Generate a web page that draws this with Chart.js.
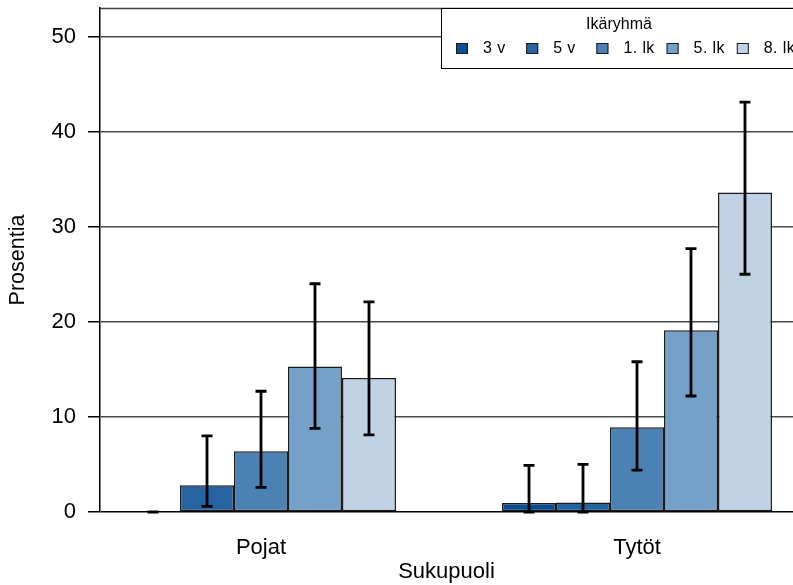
<!DOCTYPE html>
<html><head><meta charset="utf-8">
<script src="https://cdn.jsdelivr.net/npm/chart.js@4"></script>
<style>html,body{margin:0;padding:0;background:#fff}#wrap{width:793px;height:585px;position:relative}</style>
</head><body><div id="wrap"><canvas id="c"></canvas></div>
<script>
// ---- data ----
const categories = ['Pojat', 'Tytöt'];
const groupLabels = ['3 v', '5 v', '1. lk', '5. lk', '8. lk'];
const values3v  = [0.0, 0.95];
const values5v  = [2.8, 1.0];
const values1lk = [6.4, 8.9];
const values5lk = [15.3, 19.1];
const values8lk = [14.1, 33.6];
const low3v  = [0.0, 0.0];   const high3v  = [0.0, 4.9];
const low5v  = [0.6, 0.0];   const high5v  = [8.0, 5.0];
const low1lk = [2.6, 4.4];   const high1lk = [12.7, 15.8];
const low5lk = [8.8, 12.2];  const high5lk = [24.0, 27.7];
const low8lk = [8.1, 25.0];  const high8lk = [22.1, 43.1];
const yTicks = [0, 10, 20, 30, 40, 50];
const legendTitle = 'Ikäryhmä';
const xTitle = 'Sukupuoli';
const yTitle = 'Prosentia';

const seriesValues = [values3v, values5v, values1lk, values5lk, values8lk];
const seriesLow = [low3v, low5v, low1lk, low5lk, low8lk];
const seriesHigh = [high3v, high5v, high1lk, high5lk, high8lk];
const colors = ['#0b4d92', '#2563a1', '#4b81b3', '#75a0c7', '#c0d2e4'];
const FONT = '"Liberation Sans", Arial, sans-serif';

const datasets = seriesValues.map((vals, k) => ({
  label: groupLabels[k],
  data: vals.map((v, i) => ({x: i, y: v})),
  backgroundColor: colors[k],
  borderColor: '#1a1a1a',
  borderWidth: 1.5,
  borderSkipped: false,
  categoryPercentage: 0.718,
  barPercentage: 1.0
}));

const decor = {
  id: 'decor',
  beforeDatasetsDraw(chart) {
    const {ctx, chartArea: a} = chart;
    ctx.save();
    ctx.strokeStyle = '#444';
    ctx.lineWidth = 1.5;
    ctx.beginPath();
    ctx.moveTo(a.left, a.top + 0.5);
    ctx.lineTo(a.right + 2, a.top + 0.5);
    ctx.stroke();
    ctx.restore();
  },
  afterDatasetsDraw(chart) {
    const {ctx} = chart;
    const ys = chart.scales.y;
    ctx.save();
    ctx.strokeStyle = '#000';
    ctx.lineWidth = 2.8;
    chart.data.datasets.forEach((ds, k) => {
      const meta = chart.getDatasetMeta(k);
      meta.data.forEach((bar, i) => {
        const x = bar.x;
        const yl = ys.getPixelForValue(seriesLow[k][i]);
        const yh = ys.getPixelForValue(seriesHigh[k][i]);
        ctx.beginPath();
        ctx.moveTo(x, yl); ctx.lineTo(x, yh);
        ctx.moveTo(x - 5.5, yl); ctx.lineTo(x + 5.5, yl);
        ctx.moveTo(x - 5.5, yh); ctx.lineTo(x + 5.5, yh);
        ctx.stroke();
      });
    });
    ctx.restore();
  },
  afterDraw(chart) {
    const {ctx} = chart;
    ctx.save();
    // legend box
    const bx = 441.5, by = 8.5, bw = 400, bh = 60;
    ctx.fillStyle = '#fff';
    ctx.fillRect(bx, by, bw, bh);
    ctx.strokeStyle = '#000';
    ctx.lineWidth = 1;
    ctx.strokeRect(bx, by, bw, bh);
    ctx.fillStyle = '#000';
    ctx.font = '16px ' + FONT;
    ctx.textAlign = 'center';
    ctx.textBaseline = 'middle';
    ctx.fillText(legendTitle, 619, 25);
    ctx.textAlign = 'left';
    ctx.letterSpacing = '0.4px';
    chart.data.datasets.forEach((ds, k) => {
      const sx = 456 + k * 70.2;
      ctx.fillStyle = ds.backgroundColor;
      ctx.fillRect(sx, 43, 12, 11);
      ctx.strokeStyle = '#1a1a1a';
      ctx.lineWidth = 1;
      ctx.strokeRect(sx + 0.5, 43.5, 11, 10);
      ctx.fillStyle = '#000';
      ctx.fillText(ds.label, sx + 27, 48.5);
    });
    ctx.restore();
  }
};

new Chart(document.getElementById('c'), {
  type: 'bar',
  data: {datasets},
  options: {
    responsive: true,
    maintainAspectRatio: false,
    animation: false,
    layout: {padding: {top: 8, right: 0, left: 0, bottom: 0}},
    plugins: {legend: {display: false}, tooltip: {enabled: false}},
    scales: {
      x: {
        type: 'linear',
        min: -0.4282,
        max: 1.4149,
        offset: false,
        grid: {display: false, drawTicks: false},
        border: {display: false},
        afterBuildTicks(s) { s.ticks = categories.map((c, i) => ({value: i})); },
        afterFit(s) { s.height = 73; s.paddingLeft = 0; s.paddingRight = 0; },
        ticks: {
          callback: (v) => categories[v] !== undefined ? categories[v] : '',
          font: {family: FONT, size: 22},
          color: '#000',
          padding: 23,
          maxRotation: 0,
          autoSkip: false
        },
        title: {display: true, text: xTitle, font: {family: FONT, size: 22}, color: '#000', padding: {top: 0, bottom: 0}}
      },
      y: {
        min: 0,
        max: 53,
        afterBuildTicks(s) { s.ticks = yTicks.map(v => ({value: v})); },
        afterFit(s) { s.width = 100; s.paddingTop = 0; s.paddingBottom = 0; },
        grid: {
          color: (c) => (c.tick && c.tick.value === 0) ? '#000' : '#4a4a4a',
          lineWidth: 1.5,
          tickLength: 12,
          tickColor: '#000',
          drawTicks: true
        },
        border: {display: true, color: '#000', width: 1.5},
        ticks: {font: {family: FONT, size: 22}, color: '#000', padding: 12, autoSkip: false},
        title: {display: true, text: yTitle, font: {family: FONT, size: 21.5}, color: '#000', padding: {top: 5, bottom: 0}}
      }
    }
  },
  plugins: [decor]
});
</script>
</body></html>
